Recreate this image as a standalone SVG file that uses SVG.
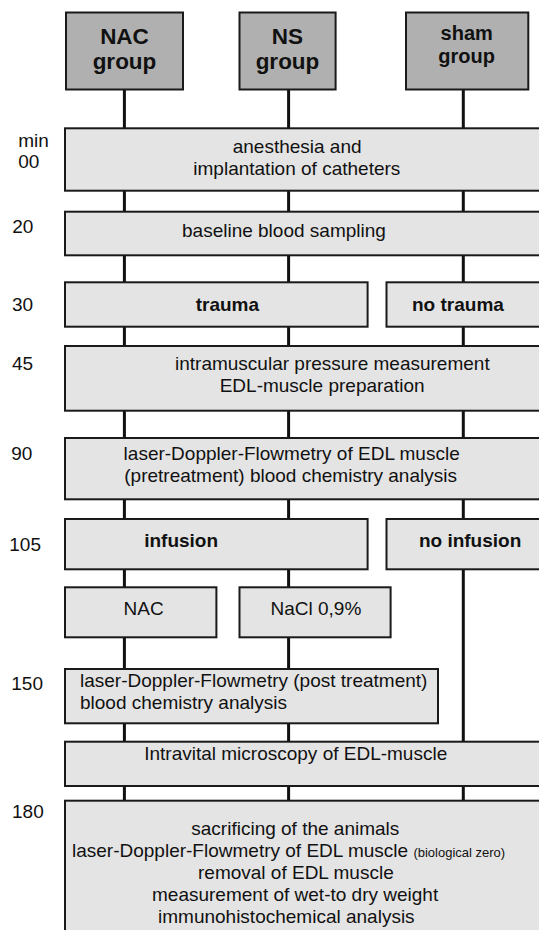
<svg xmlns="http://www.w3.org/2000/svg" width="539" height="930" viewBox="0 0 539 930">
<style>
text{font-family:"Liberation Sans",Arial,sans-serif;font-size:19px;fill:#111}
.hd{fill:#b0b0b0;stroke:#1a1a1a;stroke-width:2}
.bx{fill:#e4e4e4;stroke:#1a1a1a;stroke-width:2}
.b{font-weight:bold}
.h{font-weight:bold;font-size:22.5px;text-anchor:middle}
.hs{font-weight:bold;font-size:20px;text-anchor:middle}
.sm{font-size:13px}
.cn{stroke:#111;stroke-width:3;fill:none}
</style>
<rect width="539" height="930" fill="#fff"/>
<g id="connectors">
<path class="cn" d="M124.4 90V128M124.4 190.7V211.7M124.4 255.3V282.3M124.4 326.7V346M124.4 410.7V438M124.4 499.3V519M124.4 569.3V587.3M124.4 637.3V669M124.4 723.3V741.7M124.4 786V800"/>
<path class="cn" d="M288.6 90V128M288.6 190.7V211.7M288.6 255.3V282.3M288.6 326.7V346M288.6 410.7V438M288.6 499.3V519M288.6 569.3V587.3M288.6 637.3V669M288.6 723.3V741.7M288.6 786V800"/>
<path class="cn" d="M463.3 90V128M463.3 190.7V211.7M463.3 255.3V282.3M463.3 326.7V346M463.3 410.7V438M463.3 499.3V519M463.3 569.3V741.7M463.3 786V800"/>
</g>
<g id="labels">
<text x="18.3" y="147">min</text>
<text x="18.3" y="168">00</text>
<text x="12.3" y="233">20</text>
<text x="12" y="311">30</text>
<text x="12" y="370">45</text>
<text x="11.3" y="460">90</text>
<text x="9.3" y="551">105</text>
<text x="11.3" y="690">150</text>
<text x="12" y="818">180</text>
</g>
<g id="nac-group"><rect class="hd" x="66" y="12.5" width="117" height="77"/><text class="h" x="124.5" y="43.5">NAC</text><text class="h" x="124.5" y="68.5">group</text></g>
<g id="ns-group"><rect class="hd" x="239.5" y="12.5" width="96.1" height="77"/><text class="h" x="287.5" y="43.5">NS</text><text class="h" x="287.5" y="68.5">group</text></g>
<g id="sham-group"><rect class="hd" x="406" y="12.5" width="122.3" height="77"/><text class="hs" x="466.7" y="40">sham</text><text class="hs" x="466.7" y="62.7">group</text></g>
<g id="anesthesia"><rect class="bx" x="65" y="128.3" width="480" height="62.4"/><text x="232.7" y="153">anesthesia and</text><text x="193.3" y="175">implantation of catheters</text></g>
<g id="baseline"><rect class="bx" x="65" y="211.7" width="480" height="43.6"/><text x="182" y="237">baseline blood sampling</text></g>
<g id="trauma"><rect class="bx" x="65" y="282.3" width="302.6" height="44.4"/><text class="b" x="195.7" y="311">trauma</text></g>
<g id="no-trauma"><rect class="bx" x="386.5" y="282.3" width="160" height="44.4"/><text class="b" x="412" y="311">no trauma</text></g>
<g id="intramuscular"><rect class="bx" x="65" y="346" width="480" height="64.7"/><text x="175" y="370">intramuscular pressure measurement</text><text x="219.7" y="392">EDL-muscle preparation</text></g>
<g id="ldf-pre"><rect class="bx" x="65" y="438" width="480" height="61.3"/><text x="123.6" y="460">laser-Doppler-Flowmetry of EDL muscle</text><text x="124.3" y="482">(pretreatment) blood chemistry analysis</text></g>
<g id="infusion"><rect class="bx" x="65" y="519" width="302.6" height="50.3"/><text class="b" x="144.2" y="547">infusion</text></g>
<g id="no-infusion"><rect class="bx" x="386.5" y="519" width="160" height="50.3"/><text class="b" x="418.9" y="547">no infusion</text></g>
<g id="nac"><rect class="bx" x="65" y="587.3" width="151.4" height="50"/><text x="123.6" y="615">NAC</text></g>
<g id="nacl"><rect class="bx" x="239.5" y="587.3" width="151.1" height="50"/><text x="270.5" y="615">NaCl 0,9%</text></g>
<g id="ldf-post"><rect class="bx" x="65" y="669" width="373" height="54.3"/><text x="80" y="687">laser-Doppler-Flowmetry (post treatment)</text><text x="80" y="709">blood chemistry analysis</text></g>
<g id="intravital"><rect class="bx" x="65" y="741.7" width="480" height="44.3"/><text x="144.2" y="760">Intravital microscopy of EDL-muscle</text></g>
<g id="final"><rect class="bx" x="65" y="800.7" width="480" height="140"/>
<text x="191.3" y="835">sacrificing of the animals</text>
<text x="72" y="857">laser-Doppler-Flowmetry of EDL muscle <tspan class="sm">(biological zero)</tspan></text>
<text x="198" y="879">removal of EDL muscle</text>
<text x="152" y="901">measurement of wet-to dry weight</text>
<text x="158" y="923">immunohistochemical analysis</text>
</g>
</svg>
